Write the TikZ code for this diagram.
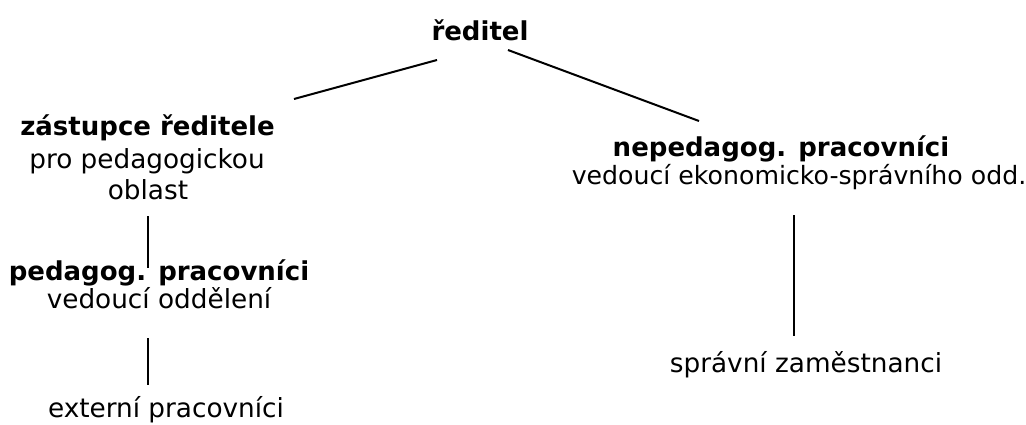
\documentclass[tikz,border=0pt]{standalone}
\usepackage{fontspec}
\setmainfont{DejaVu Sans}
\begin{document}
\begin{tikzpicture}[x=1pt,y=-1pt,
  txt/.style={inner sep=0pt,anchor=base,font=\fontsize{26.3}{31}\selectfont},
  btxt/.style={txt,font=\fontsize{26}{31}\selectfont\bfseries},
  conn/.style={line width=2pt,black}]
\useasboundingbox[fill=white] (0,0) rectangle (1026,424);
% text lines
\node[btxt] (dir) at (480,40) {ředitel};
\node[btxt] (zr1) at (147.5,135) {zástupce ředitele};
\node[txt] (zr2) at (147,168) {pro pedagogickou};
\node[txt] (zr3) at (148,199) {oblast};
\node[btxt] (pp1) at (159,280) {pedagog. pracovníci};
\node[txt] (pp2) at (159,308) {vedoucí oddělení};
\node[txt] (ext) at (166,417) {externí pracovníci};
\node[btxt] (np1) at (781,156) {nepedagog. pracovníci};
\node[txt,font=\fontsize{25.2}{31}\selectfont] (np2) at (799,184) {vedoucí ekonomicko-správního odd.};
\node[txt] (sz) at (806,372) {správní zaměstnanci};
% connector end points
\coordinate (a1) at (437,60);
\coordinate (a2) at (294,99);
\coordinate (b1) at (508,50);
\coordinate (b2) at (699,121);
\coordinate (c1) at (148,216);
\coordinate (c2) at (148,268);
\coordinate (d1) at (148,338);
\coordinate (d2) at (148,385);
\coordinate (e1) at (794,215);
\coordinate (e2) at (794,336);
\draw[conn] (a1) -- (a2);
\draw[conn] (b1) -- (b2);
\draw[conn] (c1) -- (c2);
\draw[conn] (d1) -- (d2);
\draw[conn] (e1) -- (e2);
\end{tikzpicture}
\end{document}
